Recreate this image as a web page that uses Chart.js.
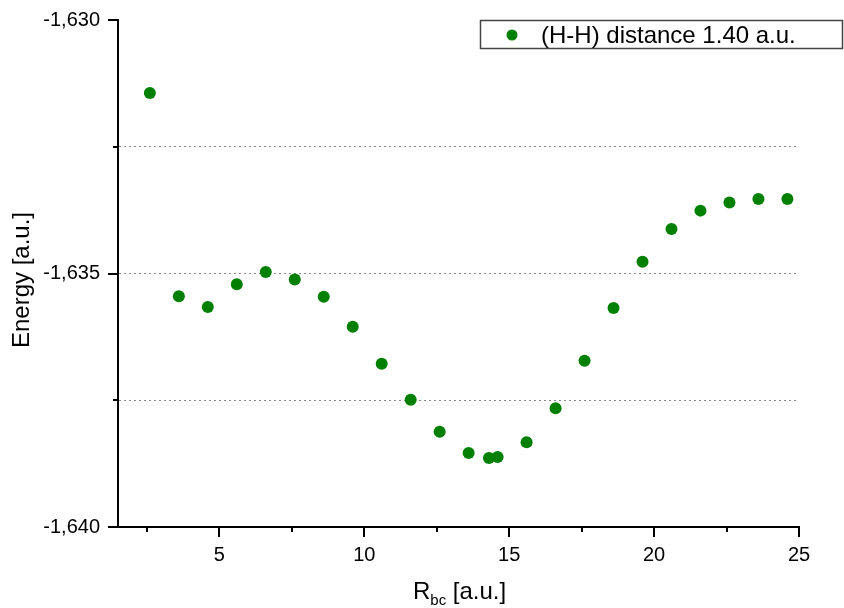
<!DOCTYPE html>
<html>
<head>
<meta charset="utf-8">
<script src="https://cdn.jsdelivr.net/npm/chart.js@4/dist/chart.umd.min.js"></script>
<style>
  html, body { margin: 0; padding: 0; background: #fff; }
  #wrap { width: 844px; height: 608px; }
</style>
</head>
<body>
<div id="wrap"><canvas id="energychart" width="844" height="608"></canvas></div>
<script>
// R_bc distance [a.u.]
const rbc = [2.6, 3.6, 4.6, 5.6, 6.6, 7.6, 8.6, 9.6, 10.6, 11.6, 12.6, 13.6, 14.3, 14.6,
             15.6, 16.6, 17.6, 18.6, 19.6, 20.6, 21.6, 22.6, 23.6, 24.6]
// energy [a.u.]
const energy = [-1.63144, -1.63545, -1.63566, -1.63521, -1.63497, -1.63512, -1.63546, -1.63605,
                -1.63678, -1.63749, -1.63812, -1.63854, -1.63864, -1.63862, -1.63833, -1.63766,
                -1.63672, -1.63568, -1.63477, -1.63412, -1.63376, -1.63360, -1.63353, -1.63353]

const xTicks = [2.5, 5, 7.5, 10, 12.5, 15, 17.5, 20, 22.5, 25]
const yTicks = [-1.640, -1.6375, -1.635, -1.6325, -1.630]
const seriesLabel = "(H-H) distance 1.40 a.u."
const green = "#008000"
const font = "'Liberation Sans', Arial, sans-serif"

function isMajorX(v) {
    return Math.abs(v % 5) < 1e-9
}
function isMajorY(v) {
    let m = Math.round(v * 10000)
    return m % 50 === 0
}

// ticks, axis titles and legend box
const decorations = {
    id: "decorations",
    afterDraw(chart) {
        const ctx = chart.ctx
        const xs = chart.scales.x
        const ys = chart.scales.y
        const area = chart.chartArea
        ctx.save()
        ctx.strokeStyle = "#000"
        ctx.lineWidth = 2
        xTicks.forEach(v => {
            let px = Math.round(xs.getPixelForValue(v))
            let len = isMajorX(v) ? 10 : 5
            ctx.beginPath()
            ctx.moveTo(px, area.bottom)
            ctx.lineTo(px, area.bottom + len)
            ctx.stroke()
        })
        yTicks.forEach(v => {
            let py = Math.round(ys.getPixelForValue(v))
            let len = isMajorY(v) ? 10 : 5
            ctx.beginPath()
            ctx.moveTo(area.left, py)
            ctx.lineTo(area.left - len, py)
            ctx.stroke()
        })

        // y title
        ctx.fillStyle = "#000"
        ctx.font = "24px " + font
        ctx.textAlign = "center"
        ctx.textBaseline = "middle"
        ctx.save()
        ctx.translate(22, 280)
        ctx.rotate(-Math.PI / 2)
        ctx.fillText("Energy [a.u.]", 0, 0)
        ctx.restore()

        // x title with subscript
        ctx.textAlign = "left"
        ctx.textBaseline = "alphabetic"
        let x0 = 413
        let base = 599
        ctx.font = "24px " + font
        ctx.fillText("R", x0, base)
        x0 += ctx.measureText("R").width
        ctx.font = "15px " + font
        ctx.fillText("bc", x0, base + 6)
        x0 += ctx.measureText("bc").width
        ctx.font = "24px " + font
        ctx.fillText(" [a.u.]", x0, base)

        // legend
        ctx.strokeStyle = "#444"
        ctx.lineWidth = 1.5
        ctx.strokeRect(480.5, 20.5, 362, 28)
        ctx.fillStyle = green
        ctx.beginPath()
        ctx.arc(512, 35, 5.5, 0, Math.PI * 2)
        ctx.fill()
        ctx.fillStyle = "#000"
        ctx.font = "24px " + font
        ctx.textBaseline = "middle"
        ctx.fillText(seriesLabel, 541, 36)
        ctx.restore()
    }
}

const data = {
    datasets: [{
        label: seriesLabel,
        data: rbc.map((r, i) => ({ x: r, y: energy[i] })),
        backgroundColor: green,
        borderColor: green,
        pointRadius: 6,
        pointBorderWidth: 0,
        showLine: false
    }]
}

const config = {
    type: "scatter",
    data,
    options: {
        responsive: false,
        animation: false,
        layout: {
            padding: { top: 20, right: 45, left: 0, bottom: 0 }
        },
        plugins: {
            legend: { display: false },
            tooltip: { enabled: false }
        },
        scales: {
            x: {
                type: "linear",
                min: 1.5,
                max: 25,
                afterBuildTicks: scale => {
                    scale.ticks = xTicks.map(v => ({ value: v }))
                },
                afterFit: scale => {
                    scale.height = 81
                    scale.paddingLeft = 0
                    scale.paddingRight = 0
                },
                grid: { display: false, drawTicks: false },
                border: { color: "#000", width: 2 },
                ticks: {
                    autoSkip: false,
                    maxRotation: 0,
                    padding: 16,
                    color: "#000",
                    font: { family: font, size: 20 },
                    callback: v => isMajorX(v) ? String(v) : ""
                }
            },
            y: {
                type: "linear",
                min: -1.640,
                max: -1.630,
                afterBuildTicks: scale => {
                    scale.ticks = yTicks.map(v => ({ value: v }))
                },
                afterFit: scale => {
                    scale.width = 118
                    scale.paddingTop = 0
                    scale.paddingBottom = 0
                },
                grid: {
                    drawTicks: false,
                    color: c => (c.tick && (c.tick.value <= -1.6399 || c.tick.value >= -1.6301)) ? "rgba(0,0,0,0)" : "#8a8a8a",
                    lineWidth: 1
                },
                border: { color: "#000", width: 2, dash: [2, 3] },
                ticks: {
                    autoSkip: false,
                    padding: 18,
                    color: "#000",
                    font: { family: font, size: 20 },
                    callback: v => isMajorY(v) ? v.toFixed(3).replace(".", ",") : ""
                }
            }
        }
    },
    plugins: [decorations]
}

const myChart = new Chart(document.getElementById("energychart"), config)
</script>
</body>
</html>
